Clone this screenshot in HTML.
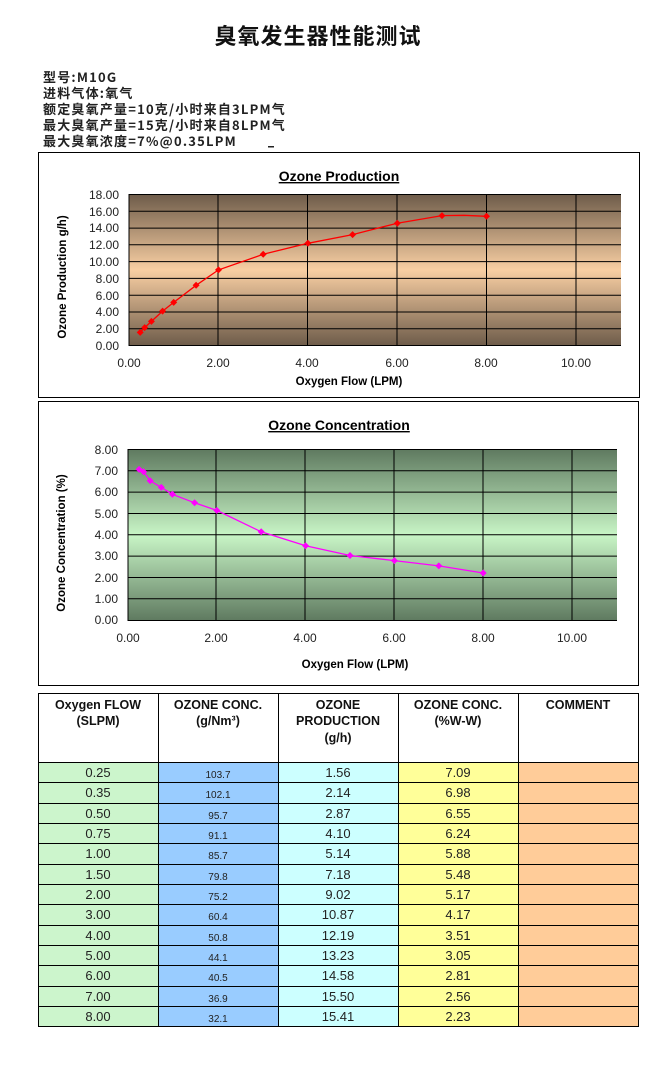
<!DOCTYPE html>
<html><head><meta charset="utf-8"><style>
body{margin:0;background:#fff;width:664px;height:1077px;overflow:hidden;font-family:"Liberation Sans","Noto Sans CJK SC",sans-serif}
</style></head><body>
<svg width="664" height="1077" xmlns="http://www.w3.org/2000/svg" font-family="Liberation Sans, Noto Sans CJK SC, sans-serif">
<defs>
<linearGradient id="g1" x1="0" y1="0" x2="0" y2="1">
<stop offset="0" stop-color="#6e5c4a"/><stop offset="0.5" stop-color="#f9cfa3"/><stop offset="1" stop-color="#6e5c4a"/></linearGradient>
<linearGradient id="g2" x1="0" y1="0" x2="0" y2="1">
<stop offset="0" stop-color="#5f7a60"/><stop offset="0.5" stop-color="#c8f5c6"/><stop offset="1" stop-color="#5f7a60"/></linearGradient>
</defs>
<text x="318" y="44" font-size="22" font-weight="bold" text-anchor="middle" fill="#111" font-family="Noto Sans CJK SC, sans-serif" letter-spacing="1">臭氧发生器性能测试</text>
<g font-size="13" font-weight="bold" fill="#222" font-family="Noto Sans CJK SC, sans-serif" letter-spacing="1.2">
<text x="43" y="82">型号:M10G</text>
<text x="43" y="98">进料气体:氧气</text>
<text x="43" y="114">额定臭氧产量=10克/小时来自3LPM气</text>
<text x="43" y="130">最大臭氧产量=15克/小时来自8LPM气</text>
<text x="43" y="146">最大臭氧浓度=7%@0.35LPM</text>
</g>
<rect x="268" y="146" width="6" height="1.5" fill="#222"/>

<!-- Chart 1 -->
<rect x="38.5" y="152.5" width="601" height="245" fill="#fff" stroke="#000"/>
<text x="339" y="181" font-size="14" font-weight="bold" text-anchor="middle" text-decoration="underline">Ozone Production</text>
<rect x="129" y="194.5" width="492" height="151" fill="url(#g1)"/>
<g stroke="#000" stroke-width="1">
<line x1="129" y1="194.5" x2="621" y2="194.5"/><line x1="129" y1="211.3" x2="621" y2="211.3"/><line x1="129" y1="228.1" x2="621" y2="228.1"/><line x1="129" y1="244.8" x2="621" y2="244.8"/><line x1="129" y1="261.6" x2="621" y2="261.6"/><line x1="129" y1="278.4" x2="621" y2="278.4"/><line x1="129" y1="295.2" x2="621" y2="295.2"/><line x1="129" y1="312" x2="621" y2="312"/><line x1="129" y1="328.7" x2="621" y2="328.7"/><line x1="129" y1="345.5" x2="621" y2="345.5"/>
<line x1="129" y1="194" x2="129" y2="346"/><line x1="218" y1="194" x2="218" y2="346"/><line x1="307.5" y1="194" x2="307.5" y2="346"/><line x1="397" y1="194" x2="397" y2="346"/><line x1="486.5" y1="194" x2="486.5" y2="346"/><line x1="576" y1="194" x2="576" y2="346"/>
</g>
<g font-size="12" fill="#222" text-anchor="end">
<text x="119" y="199">18.00</text><text x="119" y="216">16.00</text><text x="119" y="232">14.00</text><text x="119" y="249">12.00</text><text x="119" y="266">10.00</text><text x="119" y="283">8.00</text><text x="119" y="300">6.00</text><text x="119" y="316">4.00</text><text x="119" y="333">2.00</text><text x="119" y="350">0.00</text>
</g>
<g font-size="12" fill="#222" text-anchor="middle">
<text x="129" y="367">0.00</text><text x="218" y="367">2.00</text><text x="307" y="367">4.00</text><text x="397" y="367">6.00</text><text x="486" y="367">8.00</text><text x="576" y="367">10.00</text>
</g>
<text x="349" y="385" font-size="11.5" font-weight="bold" text-anchor="middle">Oxygen Flow (LPM)</text>
<text transform="translate(66,277) rotate(-90)" font-size="11.5" font-weight="bold" text-anchor="middle">Ozone Production g/h)</text>
<polyline fill="none" stroke="#f00" stroke-width="1.3" points="140.2,332.4 144.7,327.6 151.4,321.4 162.6,311.1 173.7,302.4 196.1,285.3 218.5,269.9 263.2,254.3 307.9,243.3 352.6,234.6 397.3,223.2 442,215.6 464,215.3 486.5,216.3"/>
<g fill="#f00">
<path d="M140.2,328.9l3.5,3.5l-3.5,3.5l-3.5,-3.5z"/><path d="M144.7,324.1l3.5,3.5l-3.5,3.5l-3.5,-3.5z"/><path d="M151.4,317.9l3.5,3.5l-3.5,3.5l-3.5,-3.5z"/><path d="M162.6,307.6l3.5,3.5l-3.5,3.5l-3.5,-3.5z"/><path d="M173.7,298.9l3.5,3.5l-3.5,3.5l-3.5,-3.5z"/><path d="M196.1,281.8l3.5,3.5l-3.5,3.5l-3.5,-3.5z"/><path d="M218.5,266.4l3.5,3.5l-3.5,3.5l-3.5,-3.5z"/><path d="M263.2,250.8l3.5,3.5l-3.5,3.5l-3.5,-3.5z"/><path d="M307.9,239.8l3.5,3.5l-3.5,3.5l-3.5,-3.5z"/><path d="M352.6,231.1l3.5,3.5l-3.5,3.5l-3.5,-3.5z"/><path d="M397.3,219.7l3.5,3.5l-3.5,3.5l-3.5,-3.5z"/><path d="M442,212.1l3.5,3.5l-3.5,3.5l-3.5,-3.5z"/><path d="M486.5,212.8l3.5,3.5l-3.5,3.5l-3.5,-3.5z"/>
</g>

<!-- Chart 2 -->
<rect x="38.5" y="401.5" width="600" height="284" fill="#fff" stroke="#000"/>
<text x="339" y="430" font-size="14" font-weight="bold" text-anchor="middle" text-decoration="underline">Ozone Concentration</text>
<rect x="128" y="449.5" width="489" height="171" fill="url(#g2)"/>
<g stroke="#000">
<line x1="128" y1="449.5" x2="617" y2="449.5"/><line x1="128" y1="470.8" x2="617" y2="470.8"/><line x1="128" y1="492.1" x2="617" y2="492.1"/><line x1="128" y1="513.5" x2="617" y2="513.5"/><line x1="128" y1="534.8" x2="617" y2="534.8"/><line x1="128" y1="556.1" x2="617" y2="556.1"/><line x1="128" y1="577.5" x2="617" y2="577.5"/><line x1="128" y1="598.8" x2="617" y2="598.8"/><line x1="128" y1="620.5" x2="617" y2="620.5"/>
<line x1="128" y1="449" x2="128" y2="621"/><line x1="216" y1="449" x2="216" y2="621"/><line x1="305" y1="449" x2="305" y2="621"/><line x1="394" y1="449" x2="394" y2="621"/><line x1="483" y1="449" x2="483" y2="621"/><line x1="572" y1="449" x2="572" y2="621"/>
</g>
<g font-size="12" fill="#222" text-anchor="end">
<text x="118" y="454">8.00</text><text x="118" y="475">7.00</text><text x="118" y="496">6.00</text><text x="118" y="518">5.00</text><text x="118" y="539">4.00</text><text x="118" y="560">3.00</text><text x="118" y="582">2.00</text><text x="118" y="603">1.00</text><text x="118" y="624">0.00</text>
</g>
<g font-size="12" fill="#222" text-anchor="middle">
<text x="128" y="642">0.00</text><text x="216" y="642">2.00</text><text x="305" y="642">4.00</text><text x="394" y="642">6.00</text><text x="483" y="642">8.00</text><text x="572" y="642">10.00</text>
</g>
<text x="355" y="668" font-size="11.5" font-weight="bold" text-anchor="middle">Oxygen Flow (LPM)</text>
<text transform="translate(65,543) rotate(-90)" font-size="11.5" font-weight="bold" text-anchor="middle">Ozone Concentration (%)</text>
<polyline fill="none" stroke="#f0f" stroke-width="1.3" points="139.1,469.4 143.6,471.7 150.2,480.8 161.3,487.4 172.4,494.3 194.6,502.8 216.8,510.4 261.2,531.8 305.6,545.7 350,555.5 394.4,560.6 438.8,565.9 483.2,573"/>
<g fill="#f0f">
<path d="M139.1,465.9l3.5,3.5l-3.5,3.5l-3.5,-3.5z"/><path d="M143.6,468.2l3.5,3.5l-3.5,3.5l-3.5,-3.5z"/><path d="M150.2,477.3l3.5,3.5l-3.5,3.5l-3.5,-3.5z"/><path d="M161.3,483.9l3.5,3.5l-3.5,3.5l-3.5,-3.5z"/><path d="M172.4,490.8l3.5,3.5l-3.5,3.5l-3.5,-3.5z"/><path d="M194.6,499.3l3.5,3.5l-3.5,3.5l-3.5,-3.5z"/><path d="M216.8,506.9l3.5,3.5l-3.5,3.5l-3.5,-3.5z"/><path d="M261.2,528.3l3.5,3.5l-3.5,3.5l-3.5,-3.5z"/><path d="M305.6,542.2l3.5,3.5l-3.5,3.5l-3.5,-3.5z"/><path d="M350,552l3.5,3.5l-3.5,3.5l-3.5,-3.5z"/><path d="M394.4,557.1l3.5,3.5l-3.5,3.5l-3.5,-3.5z"/><path d="M438.8,562.4l3.5,3.5l-3.5,3.5l-3.5,-3.5z"/><path d="M483.2,569.5l3.5,3.5l-3.5,3.5l-3.5,-3.5z"/>
</g>

<!-- Table -->
<rect x="38" y="762" width="120" height="264" fill="#ccf5cc"/>
<rect x="158" y="762" width="120" height="264" fill="#99ccff"/>
<rect x="278" y="762" width="120" height="264" fill="#ccffff"/>
<rect x="398" y="762" width="120" height="264" fill="#ffff99"/>
<rect x="518" y="762" width="120" height="264" fill="#ffcc99"/>
<g stroke="#000" fill="none">
<rect x="38.5" y="693.5" width="600" height="333"/>
<line x1="158.5" y1="693" x2="158.5" y2="1026"/><line x1="278.5" y1="693" x2="278.5" y2="1026"/><line x1="398.5" y1="693" x2="398.5" y2="1026"/><line x1="518.5" y1="693" x2="518.5" y2="1026"/>
<line x1="38" y1="762.5" x2="639" y2="762.5"/><line x1="38" y1="782.5" x2="639" y2="782.5"/><line x1="38" y1="803.5" x2="639" y2="803.5"/><line x1="38" y1="823.5" x2="639" y2="823.5"/><line x1="38" y1="843.5" x2="639" y2="843.5"/><line x1="38" y1="864.5" x2="639" y2="864.5"/><line x1="38" y1="884.5" x2="639" y2="884.5"/><line x1="38" y1="904.5" x2="639" y2="904.5"/><line x1="38" y1="925.5" x2="639" y2="925.5"/><line x1="38" y1="945.5" x2="639" y2="945.5"/><line x1="38" y1="965.5" x2="639" y2="965.5"/><line x1="38" y1="986.5" x2="639" y2="986.5"/><line x1="38" y1="1006.5" x2="639" y2="1006.5"/>
</g>
<g font-size="12.5" font-weight="bold" text-anchor="middle" fill="#111">
<text x="98" y="709">Oxygen FLOW</text><text x="98" y="725">(SLPM)</text>
<text x="218" y="709">OZONE CONC.</text><text x="218" y="725">(g/Nm³)</text>
<text x="338" y="709">OZONE</text><text x="338" y="725">PRODUCTION</text><text x="338" y="742">(g/h)</text>
<text x="458" y="709">OZONE CONC.</text><text x="458" y="725">(%W-W)</text>
<text x="578" y="709">COMMENT</text>
</g>
<g font-size="13" text-anchor="middle" fill="#222">
<text x="98" y="777">0.25</text><text x="98" y="797">0.35</text><text x="98" y="818">0.50</text><text x="98" y="838">0.75</text><text x="98" y="858">1.00</text><text x="98" y="879">1.50</text><text x="98" y="899">2.00</text><text x="98" y="919">3.00</text><text x="98" y="940">4.00</text><text x="98" y="960">5.00</text><text x="98" y="980">6.00</text><text x="98" y="1001">7.00</text><text x="98" y="1021">8.00</text>
<text x="338" y="777">1.56</text><text x="338" y="797">2.14</text><text x="338" y="818">2.87</text><text x="338" y="838">4.10</text><text x="338" y="858">5.14</text><text x="338" y="879">7.18</text><text x="338" y="899">9.02</text><text x="338" y="919">10.87</text><text x="338" y="940">12.19</text><text x="338" y="960">13.23</text><text x="338" y="980">14.58</text><text x="338" y="1001">15.50</text><text x="338" y="1021">15.41</text>
<text x="458" y="777">7.09</text><text x="458" y="797">6.98</text><text x="458" y="818">6.55</text><text x="458" y="838">6.24</text><text x="458" y="858">5.88</text><text x="458" y="879">5.48</text><text x="458" y="899">5.17</text><text x="458" y="919">4.17</text><text x="458" y="940">3.51</text><text x="458" y="960">3.05</text><text x="458" y="980">2.81</text><text x="458" y="1001">2.56</text><text x="458" y="1021">2.23</text>
</g>
<g font-size="10" text-anchor="middle" fill="#222">
<text x="218" y="778">103.7</text><text x="218" y="798">102.1</text><text x="218" y="819">95.7</text><text x="218" y="839">91.1</text><text x="218" y="859">85.7</text><text x="218" y="880">79.8</text><text x="218" y="900">75.2</text><text x="218" y="920">60.4</text><text x="218" y="941">50.8</text><text x="218" y="961">44.1</text><text x="218" y="981">40.5</text><text x="218" y="1002">36.9</text><text x="218" y="1022">32.1</text>
</g>
</svg>
</body></html>
